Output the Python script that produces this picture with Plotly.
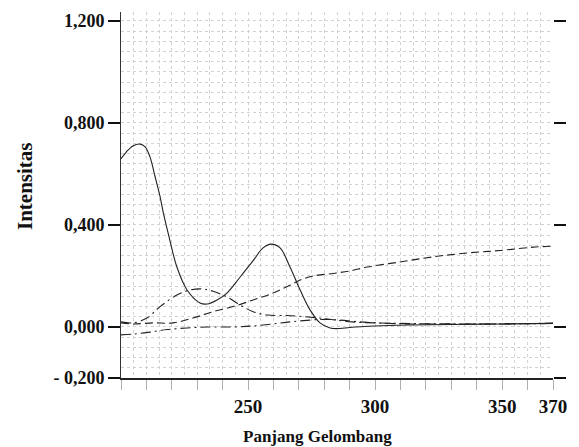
import plotly.graph_objects as go

# Wavelength (nm) and intensity
solid_x = [200, 202, 204.7, 207.5, 209.5, 211.4, 213.4, 215.4, 216.6, 218.5, 222, 226, 231.1, 233.9,
           237.8, 241.7, 246.9, 252, 255.9, 259.1, 262.6, 266.5, 270.5, 274.4, 278.3, 282.3, 286.2,
           290, 300, 313, 330, 350, 370]
solid_y = [0.66, 0.685, 0.71, 0.717, 0.706, 0.667, 0.59, 0.51, 0.45, 0.37, 0.235, 0.145, 0.094, 0.09,
           0.106, 0.133, 0.196, 0.26, 0.31, 0.325, 0.31, 0.235, 0.145, 0.067, 0.016, -0.004, -0.006,
           -0.002, 0.004, 0.008, 0.01, 0.012, 0.014]

hump_x = [200, 204.7, 210.2, 215.4, 222, 227.2, 232.3, 236.2, 241.7, 246.9, 252, 257.5, 265.4, 270,
          278, 291, 300, 313, 330, 350, 370]
hump_y = [0.02, 0.016, 0.035, 0.08, 0.125, 0.145, 0.149, 0.14, 0.118, 0.086, 0.06, 0.047, 0.045, 0.042,
          0.035, 0.02, 0.016, 0.012, 0.012, 0.012, 0.015]

rise_x = [200, 204.7, 212.6, 220.5, 228.3, 236.2, 244.1, 252, 259.8, 266.5, 270.5, 275.6, 283.5, 290.2,
          296.9, 309.8, 322.8, 336.2, 349.2, 362.2, 370]
rise_y = [0.016, 0.012, 0.016, 0.016, 0.035, 0.06, 0.08, 0.106, 0.133, 0.164, 0.184, 0.2, 0.21, 0.22,
          0.235, 0.255, 0.275, 0.29, 0.30, 0.313, 0.317]

low_x = [200, 204.7, 211.4, 218.1, 226, 233.9, 244.1, 252, 259.8, 266.5, 274.4, 280, 286, 296.9, 310,
         330, 350, 370]
low_y = [-0.031, -0.028, -0.02, -0.01, -0.004, 0.0, 0.0, 0.004, 0.012, 0.02, 0.027, 0.03, 0.027, 0.018,
         0.014, 0.012, 0.012, 0.014]

x_tickvals = list(range(200, 371, 10))
x_labels = {250: "250", 300: "300", 350: "350", 370: "370"}
x_ticktext = [x_labels.get(v, "") for v in x_tickvals]
y_tickvals = [-0.2, 0.0, 0.4, 0.8, 1.2]
y_ticktext = ["- 0,200", "0,000", "0,400", "0,800", "1,200"]

FONT = "Liberation Serif"
LINE = "#222222"
GRID = "#d2d2d2"

W, H = 579, 447
ML, MR, MT, MB = 121, 26, 12, 69
PW, PH = W - ML - MR, H - MT - MB

fig = go.Figure()
fig.add_trace(go.Scatter(x=solid_x, y=solid_y, mode="lines", line=dict(color=LINE, width=1.1), line_shape="spline"))
fig.add_trace(go.Scatter(x=hump_x, y=hump_y, mode="lines", line=dict(color=LINE, width=1.1, dash="10px,4px,2px,4px"), line_shape="spline"))
fig.add_trace(go.Scatter(x=rise_x, y=rise_y, mode="lines", line=dict(color=LINE, width=1.1, dash="8px,4px"), line_shape="spline"))
fig.add_trace(go.Scatter(x=low_x, y=low_y, mode="lines", line=dict(color=LINE, width=1.1, dash="10px,4px,2px,4px"), line_shape="spline"))
fig.add_trace(go.Scatter(x=[200], y=[None], yaxis="y2", showlegend=False, hoverinfo="skip"))

fig.update_layout(
    width=W, height=H,
    margin=dict(l=ML, r=MR, t=MT, b=MB),
    paper_bgcolor="white", plot_bgcolor="white",
    showlegend=False,
    xaxis=dict(
        range=[200, 370], tickmode="array", tickvals=x_tickvals, ticktext=x_ticktext,
        ticks="outside", ticklen=10, tickcolor="#b0b0b0", tickwidth=1,
        showline=True, linecolor="#222222", linewidth=2,
        showgrid=True, gridcolor=GRID, griddash="dot", gridwidth=1,
        minor=dict(dtick=5, showgrid=True, gridcolor=GRID, griddash="dot", gridwidth=1),
        tickfont=dict(family=FONT, size=19, color="#111111", weight="bold"),
        zeroline=False,
    ),
    yaxis=dict(
        range=[-0.2, 1.235], tickmode="array", tickvals=y_tickvals, ticktext=y_ticktext,
        ticks="outside", ticklen=12, tickcolor="#111111", tickwidth=2,
        showline=True, linecolor="#333333", linewidth=1,
        showgrid=True, gridcolor=GRID, griddash="dot", gridwidth=1,
        minor=dict(dtick=0.04, tick0=0, showgrid=True, gridcolor=GRID, griddash="dot", gridwidth=1),
        tickfont=dict(family=FONT, size=18, color="#111111", weight="bold"),
        zeroline=False,
    ),
    yaxis2=dict(
        range=[-0.2, 1.235], overlaying="y", side="right", tickmode="array", tickvals=y_tickvals,
        ticktext=["" for _ in y_tickvals], ticks="outside", ticklen=12, tickcolor="#111111", tickwidth=2,
        showline=False, showgrid=False, zeroline=False,
    ),
    annotations=[
        dict(text="<b>Intensitas</b>", x=(25 - ML) / PW, y=(H - MB - 186) / PH, xref="paper", yref="paper",
             textangle=-90, showarrow=False, xanchor="center", yanchor="middle",
             font=dict(family=FONT, size=21, color="#111111")),
        dict(text="<b>Panjang Gelombang</b>", x=(317 - ML) / PW, y=-(436 - (H - MB)) / PH,
             xref="paper", yref="paper", showarrow=False, xanchor="center", yanchor="middle",
             font=dict(family=FONT, size=17, color="#111111")),
    ],
)

fig.write_html("out.html", config={"displayModeBar": False},
               post_script="document.body.style.margin='0';document.body.style.overflow='hidden';")
